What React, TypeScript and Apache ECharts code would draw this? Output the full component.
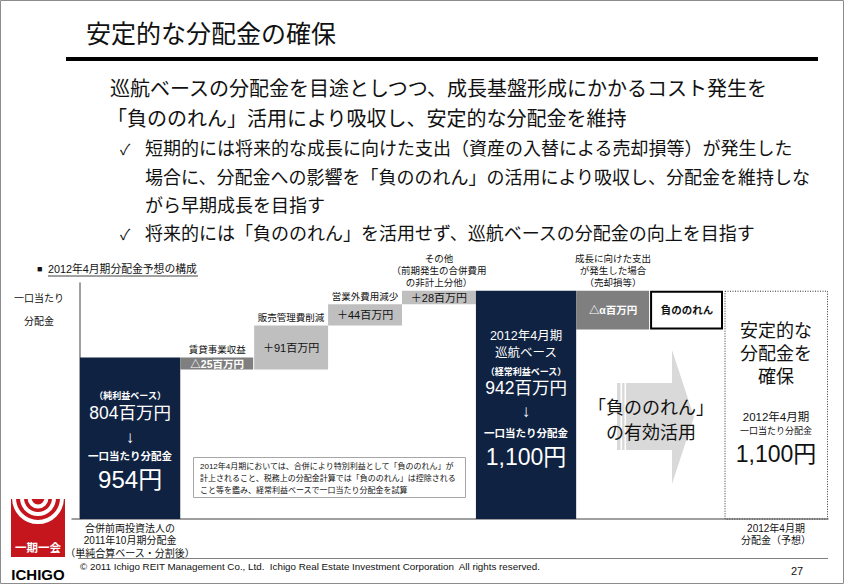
import React, { useEffect, useRef } from 'react';
import * as echarts from 'echarts';

// ---------- data ----------
const kinds = ['total', 'down', 'up', 'up', 'up', 'total', 'down', 'offset', 'goal'];
const amounts = [804, -25, 91, 44, 28, 942, -80, 80, 942]; // 百万円 (α estimated)
const valueLabels = ['', '△25百万円', '＋91百万円', '＋44百万円', '＋28百万円', '', '△α百万円', '負ののれん', ''];
const stepLabels = ['', '賃貸事業収益', '販売管理費削減', '営業外費用減少', 'その他\n（前期発生の合併費用\nの非計上分他）', '', '成長に向けた支出\nが発生した場合\n（売却損等）', '', ''];
const axisLabels = ['合併前両投資法人の\n2011年10月期分配金\n（単純合算ベース・分割後）', '', '', '', '', '', '', '', '2012年4月期\n分配金（予想）'];
const bar1Lines = ['（純利益ベース）', '804百万円', '↓', '一口当たり分配金', '954円'];
const bar2Lines = ['2012年4月期', '巡航ベース', '（経常利益ベース）', '942百万円', '↓', '一口当たり分配金', '1,100円'];
const goalLines = ['安定的な', '分配金を', '確保', '2012年4月期', '一口当たり分配金', '1,100円'];
const noteLines = [
  '2012年4月期においては、合併により特別利益として「負ののれん」が',
  '計上されること、税務上の分配金計算では「負ののれん」は控除される',
  'こと等を鑑み、経常利益ベースで一口当たり分配金を試算',
];
const headLines = [
  '巡航ベースの分配金を目途としつつ、成長基盤形成にかかるコスト発生を',
  '「負ののれん」活用により吸収し、安定的な分配金を維持',
];
const bulletLines = [
  '短期的には将来的な成長に向けた支出（資産の入替による売却損等）が発生した',
  '場合に、分配金への影響を「負ののれん」の活用により吸収し、分配金を維持しな',
  'がら早期成長を目指す',
  '将来的には「負ののれん」を活用せず、巡航ベースの分配金の向上を目指す',
];

// ---------- layout ----------
const FONT = "'Liberation Sans', 'Noto Sans CJK JP', 'DejaVu Sans', sans-serif";
const NAVY = '#0f2241';
const Y_MIN = 470;
const Y_MAX = 958;
const weightOf = (k: string) => (k === 'total' ? 4 : k === 'goal' ? 4.15 : 2.95);
const TOTAL_W = kinds.reduce((s, k) => s + weightOf(k), 0);
const X_MIN = (-8 * TOTAL_W) / 748;

function buildData() {
  let run = 0;
  let x = 0;
  return kinds.map((k, i) => {
    const a = amounts[i];
    let lo: number, hi: number;
    if (k === 'total' || k === 'goal') {
      lo = Y_MIN; hi = a; run = a;
    } else if (a < 0) {
      hi = run; lo = run + a; run = lo;
    } else {
      lo = run; hi = run + a; run = hi;
    }
    const x0 = x;
    x += weightOf(k);
    return [x0, x, lo, hi, i];
  });
}

function txt(text: string, x: number, y: number, size: number, o: any = {}) {
  const align = o.align || 'left';
  const va = o.va || 'middle';
  return {
    type: 'text',
    silent: true,
    z: o.z || 10,
    style: {
      text, x, y,
      fontSize: size,
      fontFamily: FONT,
      fontWeight: o.bold ? 'bold' : 'normal',
      fill: o.fill || '#111',
      align, textAlign: align,
      verticalAlign: va, textVerticalAlign: va,
      lineHeight: o.lh || size * 1.2,
    },
  };
}

const bar1Layout = [[396, 9, true], [413, 17.5, false], [437, 17, false], [456, 10.5, true], [479, 24, false]];
const bar2Layout = [[336, 12.5, false], [353, 12.5, false], [372, 9, true], [388, 17.5, false], [411, 17, false], [433, 10.5, true], [457, 23, false]];
const goalLayout = [[331, 18, false], [354, 18, false], [377, 18, false], [417, 11.5, false], [431, 9, false], [454, 23, false]];

function renderItem(params: any, api: any) {
  const i = params.dataIndex;
  const x0 = api.value(0), x1 = api.value(1), lo = api.value(2), hi = api.value(3);
  const tl = api.coord([x0, hi]);
  const br = api.coord([x1, lo]);
  const w = br[0] - tl[0];
  const h = br[1] - tl[1];
  const cx = tl[0] + w / 2;
  const cy = tl[1] + h / 2;
  const k = kinds[i];
  const children: any[] = [];
  if (k === 'total') {
    children.push({ type: 'rect', shape: { x: tl[0], y: tl[1], width: w, height: h }, style: { fill: NAVY } });
  } else if (k === 'down') {
    children.push({ type: 'rect', shape: { x: tl[0], y: tl[1], width: w - 1, height: h }, style: { fill: '#7f7f7f' } });
  } else if (k === 'up') {
    children.push({ type: 'rect', shape: { x: tl[0], y: tl[1], width: w, height: h }, style: { fill: '#bfbfbf' } });
  } else if (k === 'offset') {
    children.push({ type: 'rect', shape: { x: tl[0] + 1, y: tl[1] + 1, width: w - 3, height: h - 2 }, style: { fill: '#fff', stroke: '#000', lineWidth: 2 } });
  } else {
    children.push({ type: 'rect', shape: { x: tl[0] + 1, y: tl[1] + 0.5, width: w - 1.5, height: h - 0.5 }, style: { fill: 'none', stroke: '#333', lineWidth: 1, lineDash: [1, 1.5] } });
  }
  if (valueLabels[i]) {
    const white = k === 'down';
    const bold = k === 'down' || k === 'offset';
    children.push(txt(valueLabels[i], cx, cy, bold ? 10.5 : 11, { align: 'center', fill: white ? '#fff' : '#111', bold }));
  }
  if (stepLabels[i]) {
    children.push(txt(stepLabels[i], cx, tl[1] - 2, 9.5, { align: 'center', va: 'bottom', lh: 12 }));
  }
  if (axisLabels[i]) {
    children.push(txt(axisLabels[i], cx, br[1] + 3, 10, { align: 'center', va: 'top', lh: 12.5 }));
  }
  const inner = (lines: string[], layout: any[], fill: string) => {
    lines.forEach((s, j) => {
      const [y, size, bold] = layout[j];
      children.push(txt(s, cx, y, size, { align: 'center', fill, bold }));
    });
  };
  if (i === 0) inner(bar1Lines, bar1Layout, '#fff');
  if (i === 5) inner(bar2Lines, bar2Layout, '#fff');
  if (i === 8) inner(goalLines, goalLayout, '#111');
  return { type: 'group', children };
}

function buildGraphics() {
  const g: any[] = [];
  // slide frame
  g.push({ type: 'rect', silent: true, shape: { x: 0.5, y: 0.5, width: 843, height: 583 }, style: { fill: 'none', stroke: '#8c8c8c', lineWidth: 1 } });
  // title
  g.push(txt('安定的な分配金の確保', 86, 34, 25));
  g.push({ type: 'rect', silent: true, shape: { x: 66, y: 57, width: 752, height: 4 }, style: { fill: '#000' } });
  // heading
  g.push(txt(headLines[0], 110, 89, 20));
  g.push(txt(headLines[1], 107, 119, 20));
  // bullets
  g.push(txt('✓', 120, 149, 15));
  g.push(txt(bulletLines[0], 145, 149, 18));
  g.push(txt(bulletLines[1], 145, 178, 18));
  g.push(txt(bulletLines[2], 145, 206, 18));
  g.push(txt('✓', 120, 234, 15));
  g.push(txt(bulletLines[3], 145, 234, 18));
  // chart subtitle
  g.push(txt('■', 37, 269, 9));
  g.push(txt('2012年4月期分配金予想の構成', 48, 269, 10.8));
  g.push({ type: 'line', silent: true, shape: { x1: 48, y1: 276, x2: 198, y2: 276 }, style: { stroke: '#111', lineWidth: 0.8 } });
  // y axis title
  g.push(txt('一口当たり', 39, 298, 10, { align: 'center' }));
  g.push(txt('分配金', 39, 321, 10, { align: 'center' }));
  // note box
  g.push({ type: 'rect', silent: true, shape: { x: 193.5, y: 457.5, width: 272, height: 40 }, style: { fill: '#fff', stroke: '#a6a6a6', lineWidth: 1 } });
  noteLines.forEach((s, j) => g.push(txt(s, 200, 466 + j * 12, 8)));
  // arrow
  g.push({
    type: 'polygon', silent: true, z: 1,
    shape: { points: [[617, 383], [672, 383], [672, 350], [694, 417], [672, 484], [672, 450], [617, 450]] },
    style: { fill: '#d9d9d9' },
  });
  g.push({ type: 'rect', silent: true, z: 2, shape: { x: 620.5, y: 383, width: 1.6, height: 67 }, style: { fill: '#fff' } });
  g.push({ type: 'rect', silent: true, z: 2, shape: { x: 624.5, y: 383, width: 1.6, height: 67 }, style: { fill: '#fff' } });
  g.push(txt('「負ののれん」', 651, 408, 18, { align: 'center', z: 5 }));
  g.push(txt('の有効活用', 651, 433, 18, { align: 'center', z: 5 }));
  // footer
  g.push({ type: 'line', silent: true, shape: { x1: 78, y1: 558.5, x2: 828, y2: 558.5 }, style: { stroke: '#808080', lineWidth: 1 } });
  g.push(txt('© 2011 Ichigo REIT Management Co., Ltd.  Ichigo Real Estate Investment Corporation  All rights reserved.', 80, 566, 9.8));
  g.push(txt('27', 797, 571, 11, { align: 'center' }));
  // logo
  g.push({ type: 'rect', silent: true, shape: { x: 11, y: 499, width: 54, height: 58 }, style: { fill: '#c4161c' } });
  [24, 16, 8.5].forEach((r) => {
    g.push({ type: 'arc', silent: true, shape: { cx: 38, cy: 498, r, startAngle: 0, endAngle: Math.PI, clockwise: true }, style: { stroke: '#fff', lineWidth: 4, fill: 'none' } });
  });
  g.push(txt('一期一会', 38, 548, 11.5, { align: 'center', fill: '#fff', bold: true }));
  g.push(txt('ICHIGO', 38, 574, 15, { align: 'center', bold: true, fill: '#000' }));
  return g;
}

export default function App() {
  const ref = useRef<HTMLDivElement>(null);
  useEffect(() => {
    if (!ref.current) return;
    const chart = echarts.init(ref.current, undefined, { renderer: 'svg' });
    chart.setOption({
      animation: false,
      backgroundColor: '#fff',
      grid: { left: 72, right: 17, top: 283, bottom: 66, containLabel: false },
      xAxis: {
        type: 'value', min: X_MIN, max: TOTAL_W,
        axisLine: { show: true, onZero: false, lineStyle: { color: '#7f7f7f', width: 1.5 } },
        axisTick: { show: false }, axisLabel: { show: false }, splitLine: { show: false },
      },
      yAxis: {
        type: 'value', min: Y_MIN, max: Y_MAX,
        axisLine: { show: true, lineStyle: { color: '#7f7f7f', width: 1.5 } },
        axisTick: { show: false }, axisLabel: { show: false }, splitLine: { show: false },
      },
      series: [
        {
          type: 'custom',
          renderItem,
          data: buildData(),
          encode: { x: [0, 1], y: [2, 3] },
          clip: false,
          silent: true,
        },
      ],
      graphic: { elements: buildGraphics() },
    });
    return () => chart.dispose();
  }, []);
  return (
    <div
      ref={ref}
      style={{ position: 'fixed', left: 0, top: 0, width: 845, height: 585, background: '#fff' }}
    />
  );
}
